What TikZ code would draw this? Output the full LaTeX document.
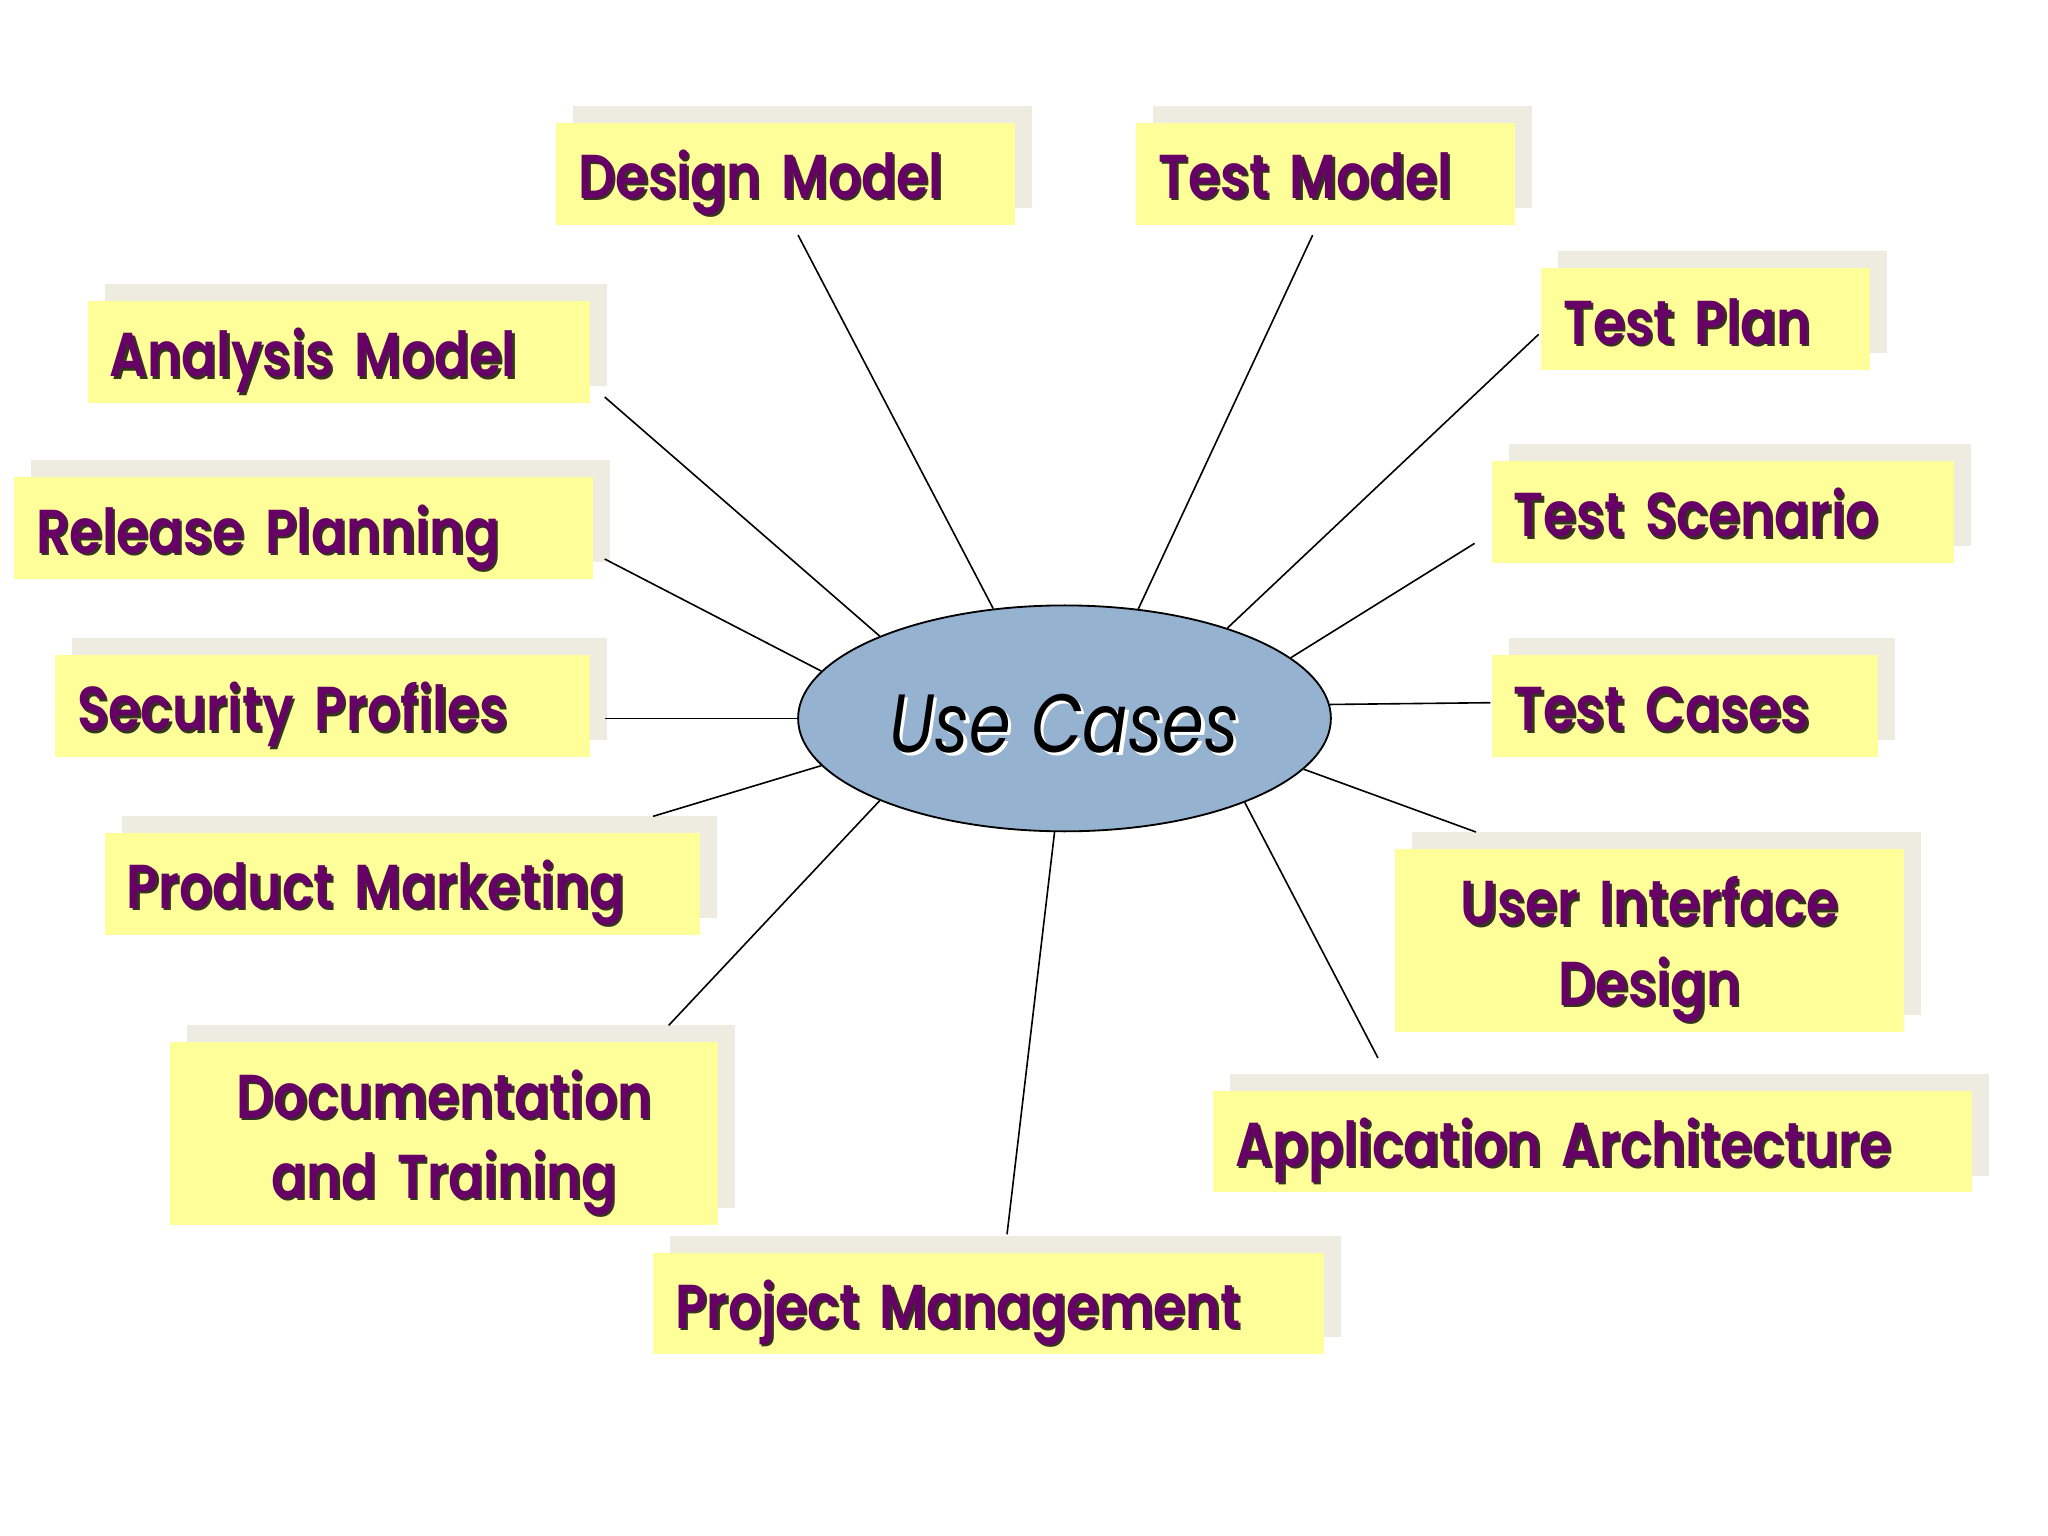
\documentclass[tikz,border=0pt]{standalone}
\usepackage{fontspec}
\usetikzlibrary{shadows,shapes.geometric}
\IfFontExistsTF{Poppins SemiBold}
  {\newfontfamily\boxfont{Poppins SemiBold}[FakeStretch=0.84]}
  {\newfontfamily\boxfont{Poppins Bold}[FakeStretch=0.83]}
\newfontfamily\ucfont{Poppins}[FakeStretch=0.81]
\definecolor{boxyellow}{HTML}{FFFF99}
\definecolor{boxshade}{HTML}{EEEBE0}
\definecolor{txtpurple}{HTML}{660066}
\definecolor{txtshade}{HTML}{34341F}
\definecolor{ucblue}{HTML}{95B3D1}
\newcommand\shtxt[1]{\leavevmode\rlap{\kern0.035cm\raisebox{-0.035cm}{\color{txtshade}#1}}#1}
\newcommand\glowtxt[1]{\leavevmode\rlap{\kern0.05cm\raisebox{-0.05cm}{\color{white}#1}}#1}
\begin{document}
\begin{tikzpicture}[x=0.02cm,y=-0.02cm,
  box/.style={fill=boxyellow, draw=none, inner xsep=0.34cm, inner ysep=0pt,
    minimum height=1.56cm, text=txtpurple,
    font=\boxfont\fontsize{27}{35}\selectfont,
    drop shadow={shadow xshift=0.26cm, shadow yshift=0.26cm, fill=boxshade, opacity=1},
    align=left, text height=0.9cm, text depth=0.14cm},
  twobox/.style={box, align=center, minimum height=2.8cm, text height=0.6cm, text depth=1.08cm},
  conn/.style={draw=black, line width=0.7pt},
  usecase/.style={ellipse, draw=black, line width=0.8pt, fill=ucblue,
    minimum width=8.16cm, minimum height=3.46cm, inner sep=0pt,
    font=\ucfont\itshape\fontsize{36}{40}\selectfont, text=black,
    text height=1.04cm, text depth=0cm}
]
\useasboundingbox (0,0) rectangle (1568,1176);
\fill[white] (0,0) rectangle (1568,1176);

% boxes
\node[box, text width=6.34cm] (dm) at (601.5,133) {\shtxt{Design Model}};
\node[box, text width=5.12cm] (tm) at (1015,133) {\shtxt{Test Model}};
\node[box, text width=4.36cm] (tp) at (1306,244.5) {\shtxt{Test Plan}};
\node[box, text width=7.02cm] (am) at (259.5,269.5) {\shtxt{Analysis Model}};
\node[box, text width=8.18cm] (rp) at (232.5,404.5) {\shtxt{Release Planning}};
\node[box, text width=6.40cm] (ts) at (1319,392) {\shtxt{Test Scenario}};
\node[box, text width=7.52cm] (sp) at (247,540.5) {\shtxt{Security Profiles}};
\node[box, text width=5.24cm] (tc) at (1290,540.5) {\shtxt{Test Cases}};
\node[box, text width=8.44cm] (pm) at (308,676.5) {\shtxt{Product Marketing}};
\node[twobox, text width=7.12cm] (ui) at (1263,720) {\shtxt{User Interface}\\\shtxt{Design}};
\node[twobox, text width=7.72cm] (dt) at (340,868) {\shtxt{Documentation}\\\shtxt{and Training}};
\node[box, text width=10.94cm] (aa) at (1219.5,874) {\shtxt{Application Architecture}};
\node[box, text width=9.60cm] (pj) at (757,998) {\shtxt{Project Management}};

% central ellipse
\node[usecase] (uc) at (815,550) {\glowtxt{Use Cases}};

% free ends of connectors
\coordinate (dm-e) at (611,180);
\coordinate (tm-e) at (1005,180);
\coordinate (tp-e) at (1178,256);
\coordinate (am-e) at (463,304);
\coordinate (rp-e) at (463,428);
\coordinate (ts-e) at (1129,416);
\coordinate (sp-e) at (463,550);
\coordinate (tc-e) at (1141,538);
\coordinate (pm-e) at (500,625);
\coordinate (ui-e) at (1130,637);
\coordinate (dt-e) at (512,785);
\coordinate (aa-e) at (1055,810);
\coordinate (pj-e) at (771,945);

% connectors
\draw[conn] (uc.123.1) -- (dm-e);
\draw[conn] (uc.56.9) -- (tm-e);
\draw[conn] (uc.29.6) -- (tp-e);
\draw[conn] (uc.156.7) -- (am-e);
\draw[conn] (uc.169.1) -- (rp-e);
\draw[conn] (uc.15.6) -- (ts-e);
\draw[conn] (uc.180) -- (sp-e);
\draw[conn] (uc.3.4) -- (tc-e);
\draw[conn] (uc.191.2) -- (pm-e);
\draw[conn] (uc.348.5) -- (ui-e);
\draw[conn] (uc.204) -- (dt-e);
\draw[conn] (uc.335.9) -- (aa-e);
\draw[conn] (uc.265.5) -- (pj-e);
\end{tikzpicture}
\end{document}
